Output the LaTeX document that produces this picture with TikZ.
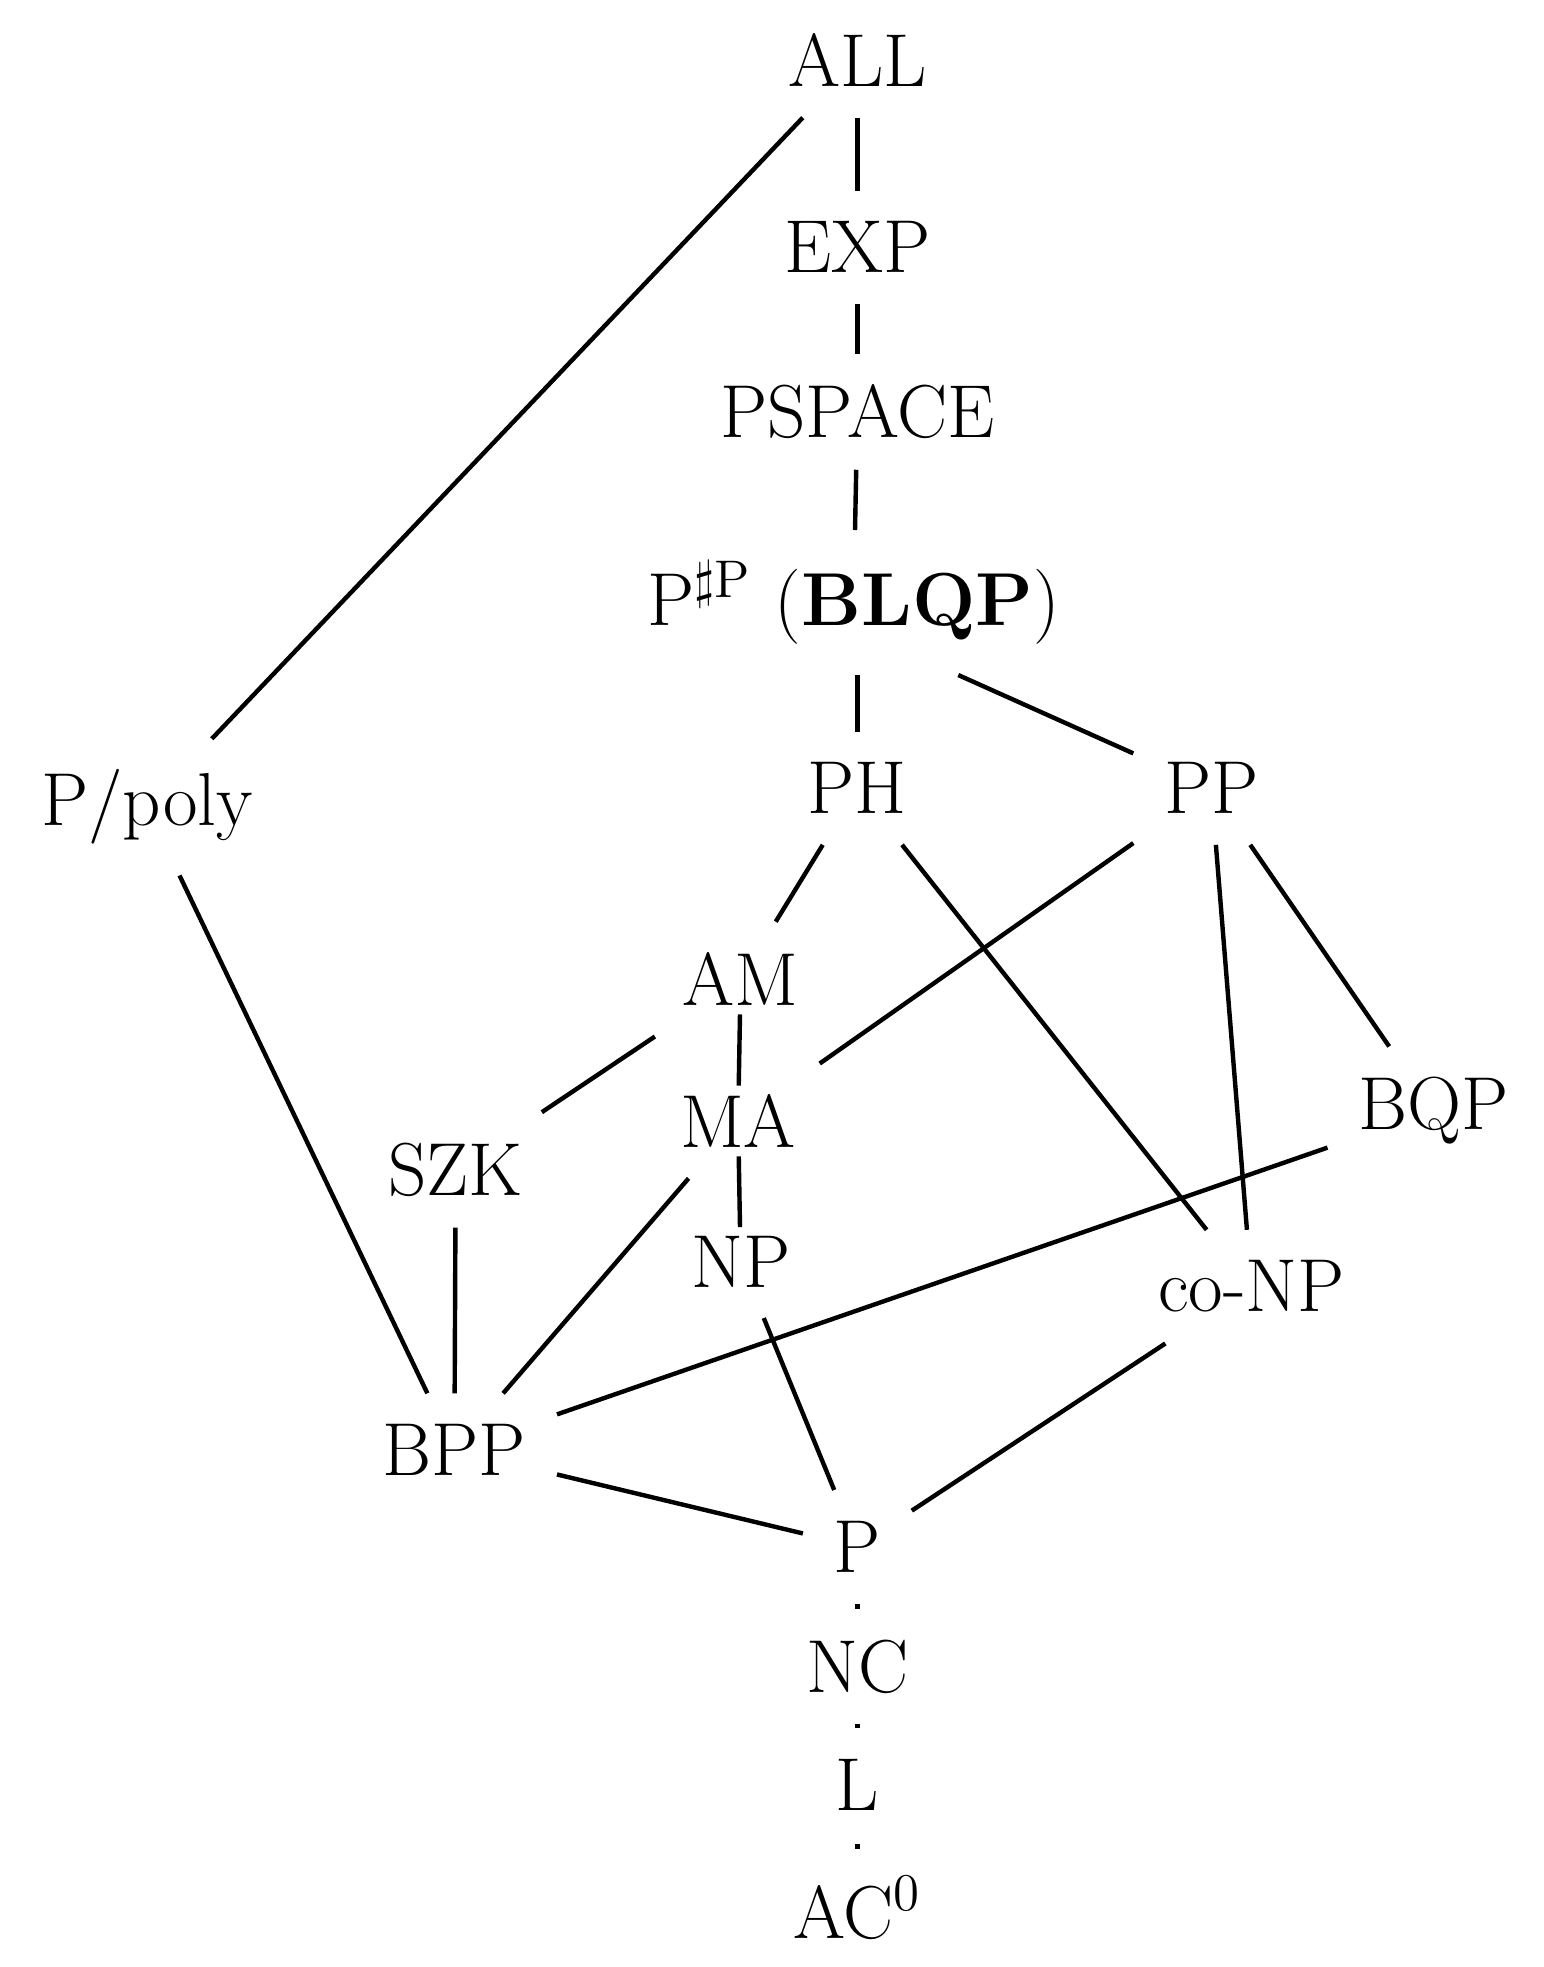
\documentclass[tikz,border=0pt]{standalone}
\usetikzlibrary{positioning, calc}

\begin{document}
\begin{tikzpicture}[
    x=0.01cm, y=-0.01cm,
    every node/.style={font=\fontsize{17}{20}\selectfont, inner sep=2pt, outer sep=5pt},
    link/.style={line width=1pt, black},
    gap link/.style={link, shorten <=-5pt, shorten >=-5pt}
]
   \useasboundingbox (0,0) rectangle (1230,1567);

   % Classes
   \node (all)    at (683,48)   {ALL};
   \node (exp)    at (683,197)  {EXP};
   \node (pspace) at (683,328)  {PSPACE};
   \node (psp)    at (680,480)  {P$^{\sharp\mathrm{P}}$ (\textbf{BLQP})};
   \node (ph)     at (683,628)  {PH};
   \node (pp)     at (965,628)  {PP};
   \node (ppoly)  at (117,643)  {P/poly};
   \node (am)     at (590,780)  {AM};
   \node (ma)     at (588,893)  {MA};
   \node (szk)    at (363,932)  {SZK};
   \node (bqp)    at (1142,885) {BQP};
   \node (np)     at (590,1005) {NP};
   \node (conp)   at (997,1025) {co-NP};
   \node (bpp)    at (362,1155) {BPP};
   \node (p)      at (683,1232) {P};
   \node (nc)     at (683,1328) {NC};
   \node (l)      at (683,1422) {L};
   \node (aczero) at (683,1520) {AC$^0$};

   % Inclusions
   \draw[link] (all) -- (exp);
   \draw[link] (exp) -- (pspace);
   \draw[link] (pspace) -- (psp);
   \draw[link] (psp.south -| ph) -- (ph);
   \draw[link] ([xshift=-30pt]psp.south east) -- (pp);
   \draw[link] (all) -- (ppoly);
   \draw[link] (ppoly) -- (bpp);
   \draw[link] (ph) -- (am);
   \draw[link] (ph) -- (conp);
   \draw[link] (pp) -- (ma);
   \draw[link] (pp) -- (conp);
   \draw[link] (pp) -- (bqp);
   \draw[link] (am) -- (szk);
   \draw[gap link] (am) -- (ma);
   \draw[gap link] (ma) -- (np);
   \draw[link] (ma) -- (bpp);
   \draw[link] (szk) -- (bpp);
   \draw[link] (bqp) -- (bpp);
   \draw[link] (np) -- (p);
   \draw[link] (conp) -- (p);
   \draw[link] (bpp) -- (p);
   \foreach \a/\b in {p/nc, nc/l, l/aczero}
      \draw[link] ($(\a)!0.48!(\b)$) -- ($(\a)!0.52!(\b)$);
\end{tikzpicture}
\end{document}
